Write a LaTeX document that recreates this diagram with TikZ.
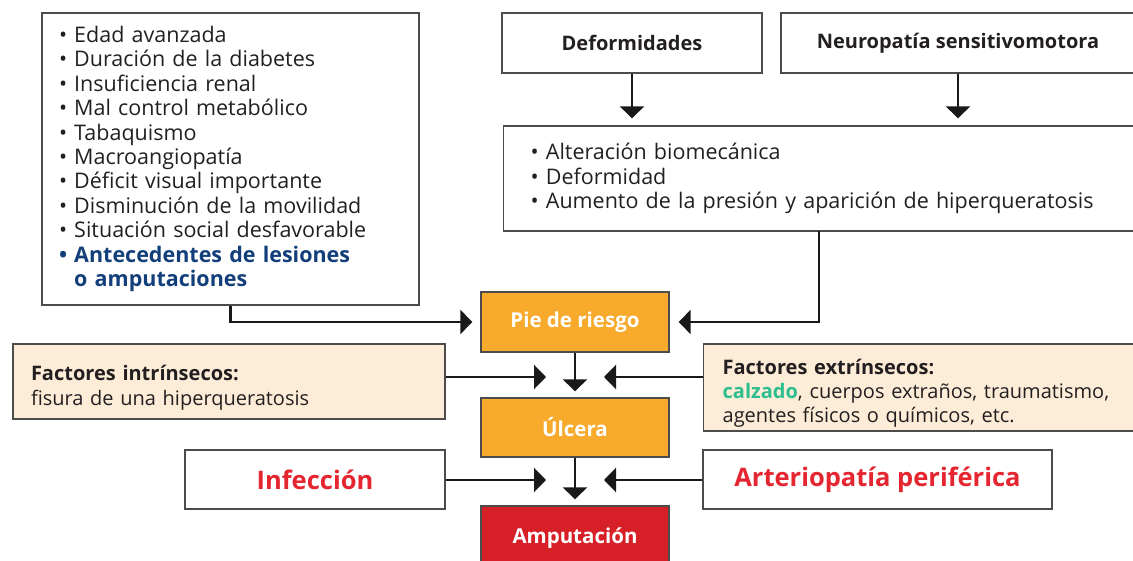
\documentclass[tikz,border=0pt]{standalone}
\usepackage{fontspec}
\setmainfont{Open Sans}
\usepackage{tikz}
\usetikzlibrary{arrows.meta,positioning,calc}
\definecolor{naranja}{HTML}{F7AA2C}
\definecolor{rojo}{HTML}{D71F27}
\definecolor{rojotxt}{HTML}{E52530}
\definecolor{beige}{HTML}{FDEDD8}
\definecolor{verde}{HTML}{2DBE8F}
\definecolor{azul}{HTML}{123F7A}
\definecolor{texto}{HTML}{231F20}
\tikzstyle{caja}=[draw=black!70,line width=1.3pt,rectangle,inner sep=0pt,text=texto]
\tikzstyle{lista}=[caja,align=left,font=\fontsize{21.5}{24.4}\selectfont]
\tikzstyle{titulo}=[caja,font=\fontsize{20}{24}\selectfont\bfseries,minimum height=60pt]
\tikzstyle{factor}=[caja,fill=beige,align=left,font=\fontsize{20}{24.4}\selectfont]
\tikzstyle{etapa}=[caja,fill=naranja,text=white,font=\fontsize{20.5}{24}\selectfont\bfseries,minimum width=188pt,minimum height=60pt]
\tikzstyle{riesgo}=[caja,text=rojotxt,font=\fontsize{25.5}{30}\selectfont\bfseries,minimum height=59pt]
\tikzstyle{flecha}=[line width=2.4pt,draw=black!90,-{Triangle[width=24pt,length=12pt]}]

\begin{document}
\begin{tikzpicture}[x=1pt,y=-1pt]
\useasboundingbox (0,0) rectangle (1133,561);
\clip (0,0) rectangle (1133,561);
\node [lista,minimum width=377pt,minimum height=292pt,text width=343pt] (fact) at (230.5,159)
  {\textbullet\ Edad avanzada\\
   \textbullet\ Duración de la diabetes\\
   \textbullet\ Insuficiencia renal\\
   \textbullet\ Mal control metabólico\\
   \textbullet\ Tabaquismo\\
   \textbullet\ Macroangiopatía\\
   \textbullet\ Déficit visual importante\\
   \textbullet\ Disminución de la movilidad\\
   \textbullet\ Situación social desfavorable\\
   \textcolor{azul}{\bfseries\textbullet\ Antecedentes de lesiones}\\
   \textcolor{azul}{\bfseries\hphantom{\textbullet\ }o amputaciones}};
\node [titulo,minimum width=260pt] (def) at (632,43) {Deformidades};
\node [titulo,minimum width=354pt] (neu) at (958,43) {Neuropatía sensitivomotora};
\node [lista,anchor=west,minimum width=640pt,minimum height=105pt,text width=586pt] (alt) at (503,178.5)
  {\textbullet\ Alteración biomecánica\\
   \textbullet\ Deformidad\\
   \textbullet\ Aumento de la presión y aparición de hiperqueratosis};
\node [etapa] (pie) at (575,322) {Pie de riesgo};
\node [etapa,minimum height=59pt] (ulc) at (575,427.5) {Úlcera};
\node [etapa,fill=rojo,minimum height=64pt] (amp) at (575,538) {Amputación};
\node [factor,minimum width=432pt,minimum height=75pt,text width=396pt] (intr) at (229,381.5)
  {\rule{0pt}{28pt}\textbf{Factores intrínsecos:}\\fisura de una hiperqueratosis};
\node [factor,anchor=west,minimum width=440pt,minimum height=87pt,text width=402pt] (ext) at (703,387.5)
  {\rule{0pt}{27pt}\textbf{Factores extrínsecos:}\\\textcolor{verde}{\bfseries calzado}, cuerpos extraños, traumatismo,\\agentes físicos o químicos, etc.};
\node [riesgo,minimum width=260pt] (inf) at (315,479.5) {Infección};
\node [riesgo,minimum width=349pt] (art) at (877.5,479.5) {Arteriopatía periférica};
\coordinate (altout) at (819,231);
\coordinate (j1) at (575,377);
\coordinate (j2) at (575,480);
\draw [flecha,shorten >=7pt] (def) -- (def |- alt.north);
\draw [flecha,shorten >=7pt] (neu) -- (neu |- alt.north);
\draw [flecha,shorten >=8pt] (fact) |- (pie);
\draw [flecha,shorten >=9pt] (altout) |- (pie);
\draw [flecha,shorten >=6pt] (pie) -- (ulc);
\draw [flecha,shorten >=6pt] (ulc) -- (amp);
\draw [flecha,shorten >=29pt] (intr.east |- j1) -- (j1);
\draw [flecha,shorten >=29pt] (ext.west |- j1) -- (j1);
\draw [flecha,shorten >=29pt] (inf.east |- j2) -- (j2);
\draw [flecha,shorten >=29pt] (art.west |- j2) -- (j2);
\end{tikzpicture}
\end{document}
